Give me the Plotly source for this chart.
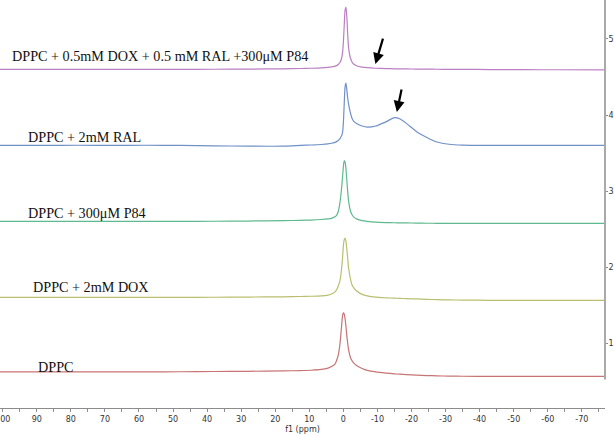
import plotly.graph_objects as go

# ── Data ──────────────────────────────────────────────────────────────────────

ppm = [101, 88, 78, 68, 58, 48, 38, 28, 17.5, 12.5, 9.5, 6.5, 4.5, 3.5, 2.5, 2, 1.5, 1, 0.5, 0.25, 0,
       -0.25, -0.5, -0.75, -1, -1.25, -1.5, -2, -2.5, -3, -4, -5.5, -7, -9.5, -12.5, -15, -16.5, -18.5,
       -21.5, -24.5, -27.5, -31, -35, -43, -53, -63, -76.5]

dppc = [0, 0, 0, 0, 0, 0.002, 0.005, 0.008, 0.013, 0.018, 0.022, 0.032, 0.05, 0.07, 0.1, 0.15, 0.22,
        0.37, 0.62, 0.74, 0.78, 0.76, 0.7, 0.6, 0.48, 0.38, 0.3, 0.2, 0.15, 0.12, 0.08, 0.045, 0.02, 0.0,
        -0.015, -0.025, -0.03, -0.035, -0.042, -0.048, -0.052, -0.055, -0.057, -0.06, -0.06, -0.06, -0.06]

dppc_dox = [0, 0, 0, 0, 0, 0, 0.002, 0.005, 0.008, 0.012, 0.015, 0.02, 0.03, 0.045, 0.07, 0.1, 0.15,
            0.22, 0.39, 0.52, 0.68, 0.76, 0.78, 0.74, 0.64, 0.52, 0.4, 0.26, 0.17, 0.13, 0.08, 0.04, 0.02,
            0.003, -0.005, -0.01, -0.012, -0.016, -0.02, -0.025, -0.03, -0.033, -0.035, -0.038, -0.04,
            -0.04, -0.04]

dppc_p84 = [0, 0, 0, 0, 0, 0, 0.002, 0.005, 0.01, 0.014, 0.018, 0.025, 0.033, 0.04, 0.06, 0.08, 0.13,
            0.25, 0.45, 0.58, 0.72, 0.8, 0.78, 0.7, 0.55, 0.4, 0.28, 0.15, 0.09, 0.06, 0.03, 0.01, 0.0,
            -0.01, -0.015, -0.018, -0.02, -0.02, -0.022, -0.024, -0.025, -0.026, -0.026, -0.027, -0.027,
            -0.027, -0.027]

dppc_ral = [0, 0, 0.002, 0, 0.002, 0, -0.005, -0.01, -0.01, 0, 0.005, 0.012, 0.02, 0.028, 0.04, 0.05,
            0.065, 0.09, 0.13, 0.17, 0.3, 0.55, 0.77, 0.82, 0.74, 0.63, 0.55, 0.44, 0.36, 0.32, 0.285,
            0.255, 0.24, 0.255, 0.31, 0.365, 0.35, 0.29, 0.18, 0.105, 0.045, 0.015, 0.003, 0, 0, 0, 0]

dppc_mix = [0, 0, 0, 0, 0, 0, 0.002, 0.004, 0.008, 0.012, 0.015, 0.02, 0.027, 0.033, 0.043, 0.05, 0.065,
            0.09, 0.15, 0.22, 0.36, 0.58, 0.78, 0.82, 0.7, 0.48, 0.3, 0.16, 0.1, 0.07, 0.045, 0.03, 0.022,
            0.015, 0.01, 0.008, 0.007, 0.006, 0.004, 0.003, 0.002, 0.001, 0, -0.002, -0.004, -0.005, -0.006]

series_names = ["DPPC", "DPPC + 2mM DOX", "DPPC + 300μM P84", "DPPC + 2mM RAL",
                "DPPC + 0.5mM DOX + 0.5 mM RAL +300μM P84"]
series_values = [dppc, dppc_dox, dppc_p84, dppc_ral, dppc_mix]
stack_offsets = [0.62, 1.6, 2.6, 3.6, 4.6]

# text label anchors (ppm, stacked axis units)
label_x = [90.2, 91.7, 93.1, 93.1, 97.8]
label_y = [0.68, 1.74, 2.71, 3.71, 4.78]

# arrows marking the broad component
arrow_ppm = [-9.4, -15.7]
arrow_y = [4.67, 4.04]

x_ticks = list(range(100, -80, -5))

# ── Styles ────────────────────────────────────────────────────────────────────

LINE_COLORS = ["#c87474", "#b9bf6e", "#5fb98f", "#7090c8", "#bb7fc4"]
AXIS_GREY = "#8c8c8c"
TICK_FONT = dict(family="DejaVu Sans", size=8, color="#333333")
LABEL_FONT = dict(family="Liberation Serif", size=14.2, color="#111111")

fig = go.Figure()

for name, values, offset, color in zip(series_names, series_values, stack_offsets, LINE_COLORS):
    fig.add_trace(go.Scatter(x=ppm, y=[v + offset for v in values], mode="lines", name=name,
                             line=dict(color=color, width=1.2, shape="spline", smoothing=0.6),
                             showlegend=False))

for name, lx, ly in zip(series_names, label_x, label_y):
    fig.add_annotation(x=lx, y=ly, text=name, showarrow=False, xanchor="left", yanchor="middle", font=LABEL_FONT)

for ax_ppm, ay_val, dx, dy in zip(arrow_ppm, arrow_y, [8, 5], [-27, -24]):
    fig.add_annotation(x=ax_ppm, y=ay_val, ax=dx, ay=dy, text="", showarrow=True, arrowhead=2,
                       arrowsize=1, arrowwidth=2.2, arrowcolor="black", standoff=0)

# right-hand spine stops short of the f1 axis
fig.add_shape(type="line", xref="paper", yref="paper", x0=1, x1=1, y0=0.07, y1=1,
              line=dict(color=AXIS_GREY, width=1.5))

fig.update_xaxes(range=[100.8, -76.8], tickvals=x_ticks,
                 ticktext=[str(t) if t % 10 == 0 else "" for t in x_ticks],
                 ticklabeloverflow="allow", automargin=False,
                 showline=True, linecolor=AXIS_GREY, linewidth=1, ticks="outside", ticklen=3,
                 tickcolor=AXIS_GREY, showgrid=False, zeroline=False, tickfont=TICK_FONT,
                 title=dict(text="f1 (ppm)", font=dict(family="DejaVu Sans", size=8, color="#333333"), standoff=3))

fig.update_yaxes(range=[0.145, 5.513], side="right", tickvals=[1, 2, 3, 4, 5], ticks="outside", ticklen=2,
                 ticklabelstandoff=-1, automargin=False,
                 tickcolor=AXIS_GREY, showline=False, showgrid=False, zeroline=False, tickfont=TICK_FONT)

fig.update_layout(width=614, height=436, margin=dict(l=0, r=9, t=0, b=28),
                  plot_bgcolor="white", paper_bgcolor="white")

# page body margin would otherwise push the figure 8px right and down
fig.write_html("out.html", config={"displayModeBar": False},
               post_script="document.body.style.margin='0';")
